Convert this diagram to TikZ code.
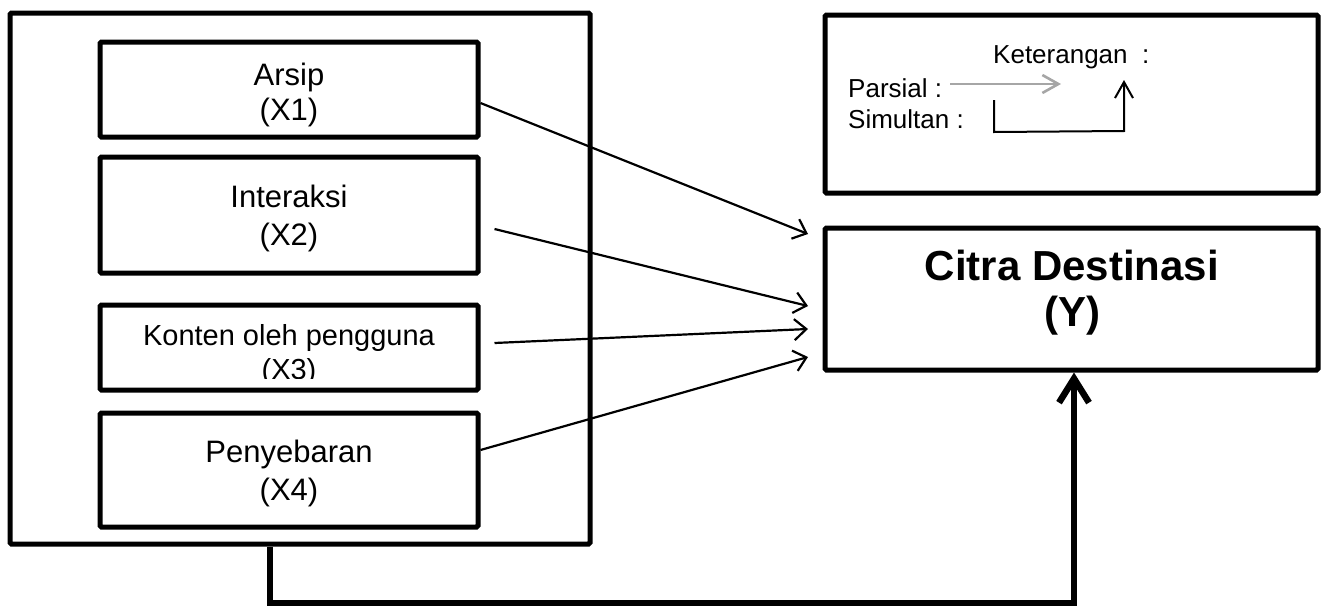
\documentclass[tikz,border=0pt]{standalone}
\usepackage{fontspec}
\setmainfont{Liberation Sans}
\usetikzlibrary{arrows.meta}
\begin{document}
\begin{tikzpicture}[x=1pt,y=-1pt,
  box/.style={draw, line width=5pt, rounded corners=1.5pt, inner sep=0pt},
  lbl/.style={font=\fontsize{31}{35}\selectfont, anchor=base, inner sep=0pt},
  smalllbl/.style={font=\fontsize{29}{33}\selectfont, anchor=base, inner sep=0pt},
  biglbl/.style={font=\fontsize{42}{48}\selectfont\bfseries, anchor=base, inner sep=0pt},
  leglbl/.style={font=\fontsize{26}{30}\selectfont, anchor=base west, inner sep=0pt},
  conn/.style={line width=2.2pt, -{Straight Barb[length=12pt,width=21pt]}},
  legarrow/.style={line width=2pt, -{Straight Barb[length=16pt,width=18pt]}},
  thickconn/.style={line width=6.5pt, -{Straight Barb[length=24pt,width=30pt]}}
]
\useasboundingbox (0,0) rectangle (1325,608);

% outer group box
\node[box, minimum width=580pt, minimum height=531pt] (outer) at (300,278.5) {};

% inner boxes
\node[box, minimum width=378pt, minimum height=95pt]  (arsip)  at (289,89.5) {};
\node[box, minimum width=378pt, minimum height=116pt] (inter)  at (289,215) {};
\node[box, minimum width=378pt, minimum height=85pt]  (konten) at (289,347.5) {};
\node[box, minimum width=378pt, minimum height=114pt] (peny)   at (289,470) {};

% legend box and target box
\node[box, minimum width=493pt, minimum height=178pt] (legend) at (1071.5,104) {};
\node[box, minimum width=493pt, minimum height=142pt] (citra)  at (1071.5,299) {};

% texts
\node[lbl] (tArsip) at (289,85) {Arsip};
\node[lbl] (tX1) at (289,120) {(X1)};
\node[lbl] (tInter) at (289,207) {Interaksi};
\node[lbl] (tX2) at (289,245) {(X2)};
\node[smalllbl] (tKonten) at (289,345) {Konten oleh pengguna};
\begin{scope}
  \clip (102,300) rectangle (476,378);
  \node[smalllbl] (tX3) at (289,379) {(X3)};
\end{scope}
\node[lbl] (tPeny) at (289,462) {Penyebaran};
\node[lbl] (tX4) at (289,500) {(X4)};

\node[biglbl] (tCitra) at (1072,280) {Citra Destinasi};
\node[biglbl] (tY) at (1072,326) {(Y)};

% legend
\node[leglbl] (tKet) at (993,63) {Keterangan\ \ :};
\node[leglbl] (tPar) at (848,97) {Parsial :};
\node[leglbl] (tSim) at (848,128) {Simultan :};
\coordinate (pA) at (950,84);
\coordinate (pB) at (1061,84);
\draw[legarrow, line width=2.6pt, draw=gray!70] (pA) -- (pB);
\coordinate (sA) at (994,100);
\coordinate (sB) at (994,132);
\coordinate (sC) at (1124,131);
\coordinate (sD) at (1124,80);
\draw[legarrow] (sA) -- (sB) -- (sC) -- (sD);

% partial connectors
\coordinate (e1) at (808,234);
\coordinate (e2) at (808,306);
\coordinate (e3) at (808,329);
\coordinate (e4) at (808,357);
\draw[conn] ([yshift=-13.5pt]arsip.east) -- (e1);
\draw[conn] ([xshift=14pt,yshift=-14pt]inter.east) -- (e2);
\draw[conn] ([xshift=14pt,yshift=4.5pt]konten.east) -- (e3);
\draw[conn] ([yshift=20pt]peny.east) -- (e4);

% simultaneous connector
\coordinate (fbL) at (270,603);
\coordinate (fbR) at (1074,603);
\draw[thickconn] (outer.south -| fbL) -- (fbL) -- (fbR) -- (citra.south -| fbR);
\end{tikzpicture}
\end{document}
